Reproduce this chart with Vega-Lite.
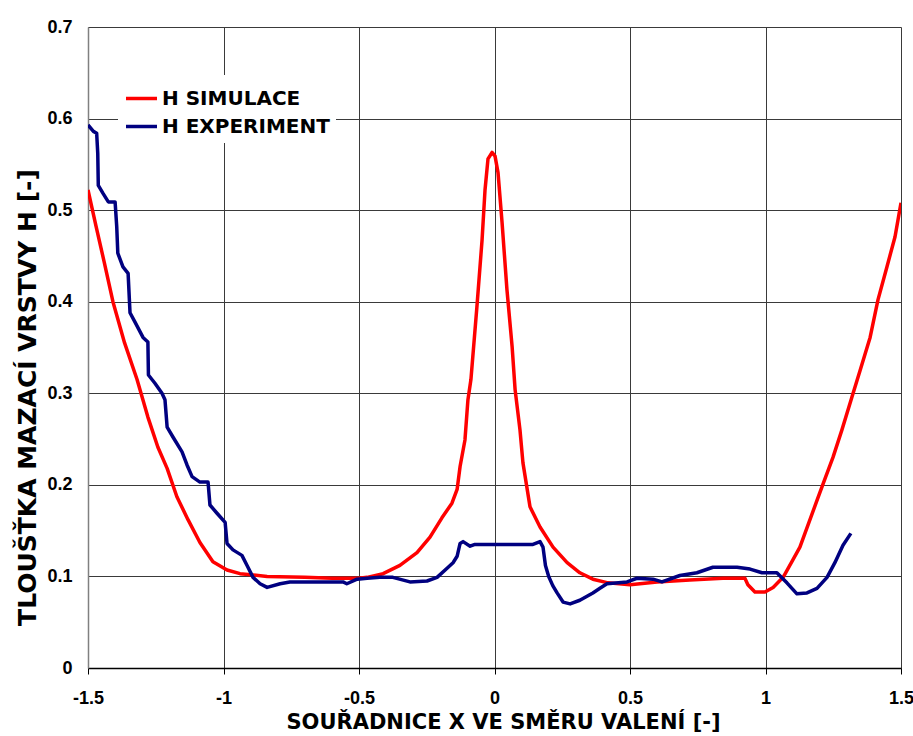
{
  "$schema": "https://vega.github.io/schema/vega-lite/v6.json",
  "width": 813,
  "height": 641,
  "autosize": "none",
  "padding": {"left": 88, "top": 27, "right": 12, "bottom": 68},
  "background": "white",
  "config": {"view": {"stroke": null}, "font": "Liberation Sans"},
  "datasets": {
    "sim": [
      {"x": -1.5, "h": 0.522}, {"x": -1.47, "h": 0.482}, {"x": -1.44, "h": 0.443}, {"x": -1.408, "h": 0.400},
      {"x": -1.365, "h": 0.355}, {"x": -1.319, "h": 0.315}, {"x": -1.279, "h": 0.274}, {"x": -1.242, "h": 0.241},
      {"x": -1.208, "h": 0.218}, {"x": -1.172, "h": 0.187}, {"x": -1.131, "h": 0.162}, {"x": -1.087, "h": 0.137},
      {"x": -1.039, "h": 0.116}, {"x": -0.987, "h": 0.107}, {"x": -0.939, "h": 0.103}, {"x": -0.839, "h": 0.1},
      {"x": -0.7, "h": 0.099}, {"x": -0.6, "h": 0.098}, {"x": -0.5, "h": 0.098}, {"x": -0.47, "h": 0.099},
      {"x": -0.411, "h": 0.103}, {"x": -0.349, "h": 0.112}, {"x": -0.286, "h": 0.126}, {"x": -0.238, "h": 0.143},
      {"x": -0.194, "h": 0.164}, {"x": -0.157, "h": 0.18}, {"x": -0.138, "h": 0.195}, {"x": -0.127, "h": 0.22},
      {"x": -0.109, "h": 0.249}, {"x": -0.098, "h": 0.293}, {"x": -0.087, "h": 0.315}, {"x": -0.065, "h": 0.394},
      {"x": -0.046, "h": 0.467}, {"x": -0.035, "h": 0.522}, {"x": -0.024, "h": 0.556}, {"x": -0.009, "h": 0.563},
      {"x": 0.002, "h": 0.559}, {"x": 0.013, "h": 0.541}, {"x": 0.028, "h": 0.486}, {"x": 0.046, "h": 0.413},
      {"x": 0.065, "h": 0.351}, {"x": 0.076, "h": 0.304}, {"x": 0.094, "h": 0.26}, {"x": 0.105, "h": 0.224},
      {"x": 0.131, "h": 0.176}, {"x": 0.168, "h": 0.154}, {"x": 0.216, "h": 0.132}, {"x": 0.268, "h": 0.115},
      {"x": 0.315, "h": 0.104}, {"x": 0.363, "h": 0.097}, {"x": 0.419, "h": 0.093}, {"x": 0.5, "h": 0.091},
      {"x": 0.6, "h": 0.094}, {"x": 0.721, "h": 0.096}, {"x": 0.843, "h": 0.098}, {"x": 0.924, "h": 0.098},
      {"x": 0.935, "h": 0.091}, {"x": 0.961, "h": 0.083}, {"x": 0.998, "h": 0.083}, {"x": 1.028, "h": 0.088},
      {"x": 1.065, "h": 0.099}, {"x": 1.101, "h": 0.118}, {"x": 1.127, "h": 0.132}, {"x": 1.19, "h": 0.183},
      {"x": 1.22, "h": 0.207}, {"x": 1.249, "h": 0.23}, {"x": 1.282, "h": 0.26}, {"x": 1.319, "h": 0.296},
      {"x": 1.349, "h": 0.325}, {"x": 1.386, "h": 0.361}, {"x": 1.415, "h": 0.402}, {"x": 1.448, "h": 0.438},
      {"x": 1.478, "h": 0.471}, {"x": 1.5, "h": 0.508}
    ],
    "exp": [
      {"x": -1.5, "h": 0.593}, {"x": -1.48, "h": 0.586}, {"x": -1.468, "h": 0.584}, {"x": -1.464, "h": 0.562},
      {"x": -1.462, "h": 0.527}, {"x": -1.444, "h": 0.518}, {"x": -1.425, "h": 0.509}, {"x": -1.4, "h": 0.509},
      {"x": -1.394, "h": 0.482}, {"x": -1.39, "h": 0.453}, {"x": -1.371, "h": 0.438}, {"x": -1.352, "h": 0.431},
      {"x": -1.345, "h": 0.388}, {"x": -1.327, "h": 0.378}, {"x": -1.297, "h": 0.361}, {"x": -1.279, "h": 0.356},
      {"x": -1.277, "h": 0.32}, {"x": -1.253, "h": 0.311}, {"x": -1.227, "h": 0.3}, {"x": -1.216, "h": 0.293},
      {"x": -1.208, "h": 0.263}, {"x": -1.186, "h": 0.252}, {"x": -1.153, "h": 0.236}, {"x": -1.135, "h": 0.222},
      {"x": -1.116, "h": 0.209}, {"x": -1.087, "h": 0.203}, {"x": -1.057, "h": 0.203}, {"x": -1.05, "h": 0.178},
      {"x": -1.024, "h": 0.169}, {"x": -0.994, "h": 0.159}, {"x": -0.987, "h": 0.136}, {"x": -0.965, "h": 0.129},
      {"x": -0.932, "h": 0.123}, {"x": -0.913, "h": 0.112}, {"x": -0.891, "h": 0.099}, {"x": -0.865, "h": 0.092},
      {"x": -0.839, "h": 0.088}, {"x": -0.791, "h": 0.092}, {"x": -0.755, "h": 0.094}, {"x": -0.65, "h": 0.094},
      {"x": -0.559, "h": 0.094}, {"x": -0.545, "h": 0.092}, {"x": -0.507, "h": 0.097}, {"x": -0.47, "h": 0.098},
      {"x": -0.423, "h": 0.099}, {"x": -0.375, "h": 0.099}, {"x": -0.312, "h": 0.094}, {"x": -0.249, "h": 0.095},
      {"x": -0.212, "h": 0.099}, {"x": -0.175, "h": 0.109}, {"x": -0.153, "h": 0.115}, {"x": -0.138, "h": 0.122},
      {"x": -0.127, "h": 0.136}, {"x": -0.116, "h": 0.138}, {"x": -0.09, "h": 0.133}, {"x": -0.072, "h": 0.135},
      {"x": 0.142, "h": 0.135}, {"x": 0.168, "h": 0.138}, {"x": 0.179, "h": 0.132}, {"x": 0.188, "h": 0.112},
      {"x": 0.2, "h": 0.1}, {"x": 0.215, "h": 0.09}, {"x": 0.231, "h": 0.082}, {"x": 0.253, "h": 0.072},
      {"x": 0.279, "h": 0.07}, {"x": 0.315, "h": 0.074}, {"x": 0.363, "h": 0.082}, {"x": 0.389, "h": 0.087},
      {"x": 0.415, "h": 0.092}, {"x": 0.489, "h": 0.094}, {"x": 0.526, "h": 0.098}, {"x": 0.585, "h": 0.097},
      {"x": 0.618, "h": 0.094}, {"x": 0.684, "h": 0.101}, {"x": 0.747, "h": 0.104}, {"x": 0.806, "h": 0.11},
      {"x": 0.895, "h": 0.11}, {"x": 0.943, "h": 0.108}, {"x": 0.987, "h": 0.104}, {"x": 1.042, "h": 0.104},
      {"x": 1.079, "h": 0.093}, {"x": 1.116, "h": 0.081}, {"x": 1.153, "h": 0.082}, {"x": 1.19, "h": 0.087},
      {"x": 1.227, "h": 0.099}, {"x": 1.256, "h": 0.115}, {"x": 1.286, "h": 0.134}, {"x": 1.315, "h": 0.147}
    ]
  },
  "encoding": {
    "x": {
      "field": "x", "type": "quantitative",
      "scale": {"domain": [-1.5, 1.5], "nice": false, "zero": false},
      "axis": {
        "values": [-1.5, -1, -0.5, 0, 0.5, 1, 1.5],
        "labelExpr": "datum.value < 0 ? '-' + format(-datum.value, '.1~f') : format(datum.value, '.1~f')",
        "title": "SOUŘADNICE X VE SMĚRU VALENÍ [-]",
        "titleFont": "DejaVu Sans", "titleFontWeight": "bold", "titleFontSize": 21, "titleColor": "black",
        "titleX": 415, "titleY": 60, "titleAlign": "center", "titleBaseline": "alphabetic",
        "labelFont": "Liberation Sans", "labelFontWeight": "bold", "labelFontSize": 18, "labelColor": "black",
        "labelPadding": 15, "labelFlush": false, "labelOverlap": false,
        "tickSize": 6, "tickColor": "black", "tickWidth": 1,
        "domainColor": "black", "domainWidth": 1.5,
        "grid": true, "gridColor": "#3a3a3a", "gridWidth": 1
      }
    },
    "y": {
      "field": "h", "type": "quantitative",
      "scale": {"domain": [0, 0.7], "nice": false},
      "axis": {
        "values": [0, 0.1, 0.2, 0.3, 0.4, 0.5, 0.6, 0.7],
        "format": ".1~f",
        "title": "TLOUŠŤKA MAZACÍ VRSTVY H [-]",
        "titleFont": "DejaVu Sans", "titleFontWeight": "bold", "titleFontSize": 25, "titleColor": "black",
        "titleX": -53, "titleY": 370, "titleAngle": 270, "titleAlign": "center", "titleBaseline": "alphabetic",
        "labelFont": "Liberation Sans", "labelFontWeight": "bold", "labelFontSize": 18, "labelColor": "black",
        "labelPadding": 16, "labelFlush": false, "labelOverlap": false,
        "ticks": false,
        "domainColor": "#808080", "domainWidth": 1.5,
        "grid": true, "gridColor": "#3a3a3a", "gridWidth": 1
      }
    },
    "color": {
      "field": "s", "type": "nominal",
      "scale": {"domain": ["H SIMULACE", "H EXPERIMENT"], "range": ["#ff0000", "#000080"]},
      "legend": {
        "orient": "none", "legendX": 30, "legendY": 48, "title": null,
        "symbolType": "stroke", "symbolSize": 961, "symbolStrokeWidth": 3.5,
        "labelFont": "DejaVu Sans", "labelFontWeight": "bold", "labelFontSize": 20, "labelColor": "black",
        "labelLimit": 0, "labelOffset": 3, "rowPadding": 0, "padding": 6, "fillColor": "white", "strokeColor": null
      }
    }
  },
  "layer": [
    {
      "data": {"name": "sim"},
      "transform": [{"calculate": "'H SIMULACE'", "as": "s"}],
      "mark": {"type": "line", "strokeWidth": 3.5, "clip": true, "strokeJoin": "round"}
    },
    {
      "data": {"name": "exp"},
      "transform": [{"calculate": "'H EXPERIMENT'", "as": "s"}],
      "mark": {"type": "line", "strokeWidth": 3.5, "clip": true, "strokeJoin": "round"}
    }
  ]
}
